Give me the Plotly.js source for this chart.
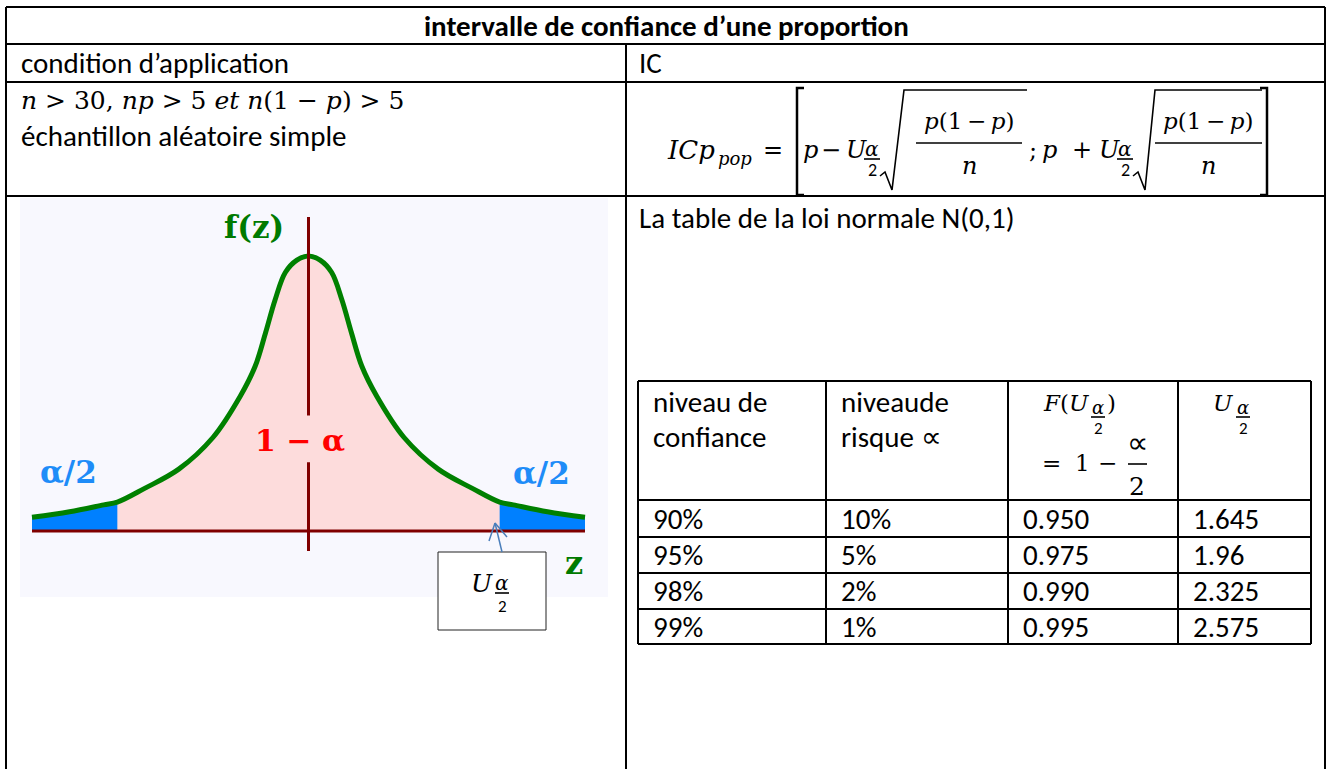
<!DOCTYPE html>
<html><head><meta charset="utf-8">
<script src="https://cdn.plot.ly/plotly-3.0.1.min.js"></script>
<style>html,body{margin:0;padding:0;background:#fff;overflow:hidden}#chart{width:1330px;height:769px}</style>
</head><body><div id="chart"></div>
<script>
// ---- data ----
const zValues = [-4.05,-3.5,-3.0,-2.8,-2.4,-1.9,-1.4,-1.0,-0.78,-0.63,-0.49,-0.34,-0.17,0,0.17,0.34,0.49,0.63,0.78,1.0,1.4,1.9,2.4,2.8,3.0,3.5,4.05];
const fValues = [0.05,0.07,0.095,0.105,0.155,0.225,0.34,0.49,0.60,0.72,0.84,0.94,0.985,1.0,0.985,0.94,0.84,0.72,0.60,0.49,0.34,0.225,0.155,0.105,0.095,0.07,0.05];
const leftTailZ = [-4.05,-3.5,-3.0,-2.8];
const leftTailF = [0.05,0.07,0.095,0.105];
const rightTailZ = [2.8,3.0,3.5,4.05];
const rightTailF = [0.105,0.095,0.07,0.05];
const confidenceLevels = ['90%','95%','98%','99%'];
const riskLevels = ['10%','5%','2%','1%'];
const cdfValues = ['0.950','0.975','0.990','0.995'];
const criticalValues = ['1.645','1.96','2.325','2.575'];

// ---- helpers ----
const W = 1330, H = 769;
const X = p => p / W, Y = p => 1 - p / H;
const SANS = 'Carlito, Lato, sans-serif';
const MATH = 'DejaVu Serif, serif';
const GIF = 'DejaVu Serif, serif';
const BS = 29;
const TS = '\u2009';
const ann = [];
const shp = [];
function T(text, x, y, o) {
  o = o || {};
  ann.push({text: text, x: X(x), y: Y(y), xref: 'paper', yref: 'paper',
    xanchor: o.xa || 'left', yanchor: 'middle', showarrow: false, borderpad: 0,
    font: {family: o.f || SANS, size: o.s || BS, color: o.c || '#000'}});
}
function M(text, x, y, s, xa) { T(text, x, y, {f: MATH, s: s || 22, xa: xa}); }
function L(x0, y0, x1, y1, w, c) {
  shp.push({type: 'line', xref: 'paper', yref: 'paper', x0: X(x0), y0: Y(y0), x1: X(x1), y1: Y(y1),
    line: {color: c || '#000', width: w || 2}, layer: 'above'});
}
function P(pts, w, c) {
  let d = pts.map((p, i) => (i ? 'L' : 'M') + X(p[0]) + ',' + Y(p[1])).join(' ');
  shp.push({type: 'path', xref: 'paper', yref: 'paper', path: d, line: {color: c || '#000', width: w || 1.5}, layer: 'above'});
}
function frac2(cx, ya, s1, s2, hw, gap) {           // small alpha over 2
  hw = hw || 7; gap = gap || 21;
  M('<i>α</i>', cx, ya, s1, 'center');
  L(cx - hw, ya + 10, cx + hw, ya + 10, 1.6);
  T('2', cx, ya + gap, {s: s2, xa: 'center'});
}
const numer = '<i>p</i>(1' + TS + '−' + TS + '<i>p</i>)';

// ---- outer table ----
L(6, 7, 1325, 7); L(6, 44, 1325, 44); L(6, 82, 1325, 82); L(6, 196, 1325, 196);
L(6, 7, 6, 769); L(1325, 7, 1325, 769); L(626, 44, 626, 769);

// ---- texts of the outer table ----
T('<b>intervalle de confiance d’une proportion</b>', 666, 26, {xa: 'center'});
T('condition d’application', 20, 63);
T('IC', 638, 63);
T('<i>n</i> > 30, <i>np</i> > 5 <i>et n</i>(1 − <i>p</i>) > 5', 20, 100, {f: MATH, s: 25});
T('échantillon aléatoire simple', 20, 136);
T('La table de la loi normale N(0,1)', 638, 218);

// ---- formula ----
M('<i>ICp</i>', 666, 150, 26);
M('<i>pop</i>', 717, 158, 18);
M('=', 762, 150, 24);
P([[804, 88], [797, 88], [797, 195], [804, 195]], 2.5);
M('<i>p</i>', 802, 150, 24);
M('−', 820, 150, 24);
M('<i>U</i>', 845, 150, 24);
frac2(872, 149, 20, 18, 8);
P([[880, 176], [885, 172], [892, 190], [904, 90], [1027, 90]], 1.6);
M(numer, 969, 121, 23, 'center');
L(916, 143, 1022, 143, 1.6);
M('<i>n</i>', 969, 166, 24, 'center');
M(';', 1028, 150, 24);
M('<i>p</i>', 1041, 150, 24);
M('+', 1071, 150, 24);
M('<i>U</i>', 1098, 150, 24);
frac2(1125, 149, 20, 18, 8);
P([[1133, 176], [1138, 172], [1145, 190], [1155, 90], [1262, 90]], 1.6);
M(numer, 1208, 121, 23, 'center');
L(1155, 143, 1262, 143, 1.6);
M('<i>n</i>', 1208, 166, 24, 'center');
P([[1260, 88], [1267, 88], [1267, 195], [1260, 195]], 2.5);

// ---- inner table ----
const colX = [638, 826, 1008, 1178, 1311];
const rowY = [381, 500, 537, 573, 609, 644];
rowY.forEach(y => L(colX[0], y, colX[4], y, 2));
colX.forEach(x => L(x, rowY[0], x, rowY[5], 2));
T('niveau de', 652, 402); T('confiance', 652, 437);
T('niveaude', 840, 402); T('risque ∝', 840, 437);
M('<i>F</i>(<i>U</i>', 1091, 403, 23, 'right');
frac2(1098, 407, 18, 17, 7);
M(')', 1106, 403, 23);
T('∝', 1137, 442, {s: 30, xa: 'center'});
M('=', 1041, 463, 23);
M('1', 1074, 463, 23);
M('−', 1097, 463, 23);
L(1128, 464, 1147, 464, 1.6);
M('2', 1137, 486, 25, 'center');
M('<i>U</i>', 1235, 403, 23, 'right');
frac2(1243, 407, 18, 17, 7);
const cols = [confidenceLevels, riskLevels, cdfValues, criticalValues];
cols.forEach((col, ci) => col.forEach((v, ri) => T(v, colX[ci] + 14, (rowY[ri + 1] + rowY[ri + 2]) / 2)));

// ---- normal curve picture ----
shp.push({type: 'rect', xref: 'paper', yref: 'paper', x0: X(20), x1: X(608), y0: Y(597), y1: Y(198),
  fillcolor: '#f8f8fe', line: {width: 0}, layer: 'below'});
const xc = 308.5, ppx = 68.27, zr = 4.3;
const yb = 531, ppy = 275, yLo = -0.1, yHi = 1.2;
const axisRed = '#800000';
function A(x0, y0, x1, y1, w) {
  shp.push({type: 'line', xref: 'x', yref: 'y', x0: x0, y0: y0, x1: x1, y1: y1, line: {color: axisRed, width: w}, layer: 'above'});
}
A(zValues[0], 0, zValues[zValues.length - 1], 0, 3);
A(0, -0.073, 0, 0.25, 3);
A(0, 0.42, 0, 1.142, 3);
T('<b>f(z)</b>', 254, 227, {f: GIF, s: 31, c: '#007a00', xa: 'center'});
T('<b>1 − α</b>', 300, 440, {f: GIF, s: 30, c: '#ff0000', xa: 'center'});
T('<b>α/2</b>', 68, 472, {f: GIF, s: 31, c: '#1e8cf8', xa: 'center'});
T('<b>α/2</b>', 541, 473, {f: GIF, s: 31, c: '#1e8cf8', xa: 'center'});
T('<b>z</b>', 574, 563, {f: GIF, s: 32, c: '#007a00', xa: 'center'});

// box with U alpha/2 and arrow
shp.push({type: 'rect', xref: 'paper', yref: 'paper', x0: X(438), x1: X(546), y0: Y(630), y1: Y(552),
  fillcolor: '#fff', line: {color: '#222', width: 1}, layer: 'above'});
M('<i>U</i>', 494, 583, 25, 'right');
frac2(502, 583, 20, 17, 7, 23);
const arrowBlue = '#4a7ebb';
L(502, 552, 495, 523, 1.5, arrowBlue);
L(495, 523, 489, 541, 1.5, arrowBlue);
L(495, 523, 507, 537, 1.5, arrowBlue);

const traces = [
  {x: zValues, y: fValues, type: 'scatter', mode: 'lines', line: {width: 0, shape: 'spline'},
   fill: 'tozeroy', fillcolor: '#fddcdc', hoverinfo: 'skip'},
  {x: leftTailZ, y: leftTailF, type: 'scatter', mode: 'lines', line: {width: 2, color: '#0080ff', shape: 'spline'},
   fill: 'tozeroy', fillcolor: '#0080ff', hoverinfo: 'skip'},
  {x: rightTailZ, y: rightTailF, type: 'scatter', mode: 'lines', line: {width: 2, color: '#0080ff', shape: 'spline'},
   fill: 'tozeroy', fillcolor: '#0080ff', hoverinfo: 'skip'},
  {x: zValues, y: fValues, type: 'scatter', mode: 'lines', line: {width: 5, color: '#008000', shape: 'spline'}, hoverinfo: 'skip'}
];
const layout = {
  width: W, height: H, margin: {l: 0, r: 0, t: 0, b: 0},
  paper_bgcolor: '#fff', plot_bgcolor: 'rgba(0,0,0,0)', showlegend: false,
  xaxis: {domain: [(xc - zr * ppx) / W, (xc + zr * ppx) / W], range: [-zr, zr], visible: false, fixedrange: true},
  yaxis: {domain: [1 - (yb - yLo * ppy) / H, 1 - (yb - yHi * ppy) / H], range: [yLo, yHi], visible: false, fixedrange: true},
  shapes: shp, annotations: ann
};
Plotly.newPlot('chart', traces, layout, {staticPlot: true, displayModeBar: false});
</script></body></html>
